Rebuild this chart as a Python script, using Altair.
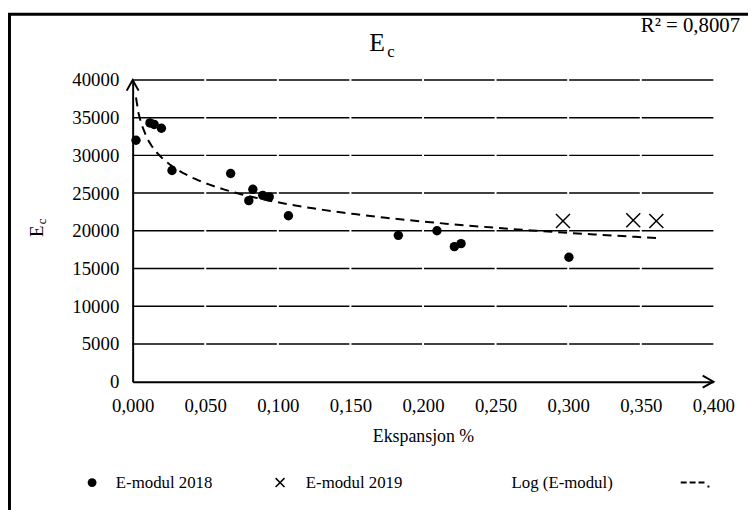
import altair as alt
import pandas as pd

# ---- data ----
x_2018 = [0.0023, 0.0119, 0.0148, 0.0198, 0.0271, 0.0675, 0.0800, 0.0828,
          0.0896, 0.0941, 0.1073, 0.1830, 0.2096, 0.2216, 0.2262, 0.3005]
y_2018 = [32000, 34300, 34100, 33600, 28000, 27600, 24000, 25500,
          24700, 24500, 22000, 19400, 20000, 17900, 18300, 16500]
x_2019 = [0.2964, 0.3448, 0.3607]
y_2019 = [21300, 21400, 21300]

x_ticks = [0.0, 0.05, 0.10, 0.15, 0.20, 0.25, 0.30, 0.35, 0.40]
y_ticks = [0, 5000, 10000, 15000, 20000, 25000, 30000, 35000, 40000]
grid_gaps = [0.05, 0.10, 0.15, 0.20, 0.25, 0.30, 0.35]

FONT = "Liberation Serif, 'Times New Roman', Times, serif"
W, H = 587, 305

pts = pd.DataFrame({
    "x": x_2018 + x_2019,
    "y": y_2018 + y_2019,
    "serie": ["E-modul 2018"] * len(x_2018) + ["E-modul 2019"] * len(x_2019),
})
grid = pd.DataFrame({"x": [0.0] * 8, "x2": [0.4] * 8, "y": y_ticks[1:]})
gaps = pd.DataFrame({"x": grid_gaps, "y": [2500] * len(grid_gaps), "y2": [40600] * len(grid_gaps)})
arrow_up = pd.DataFrame({"x": [0.0], "y": [40000]})
arrow_right = pd.DataFrame({"x": [0.4], "y": [0]})
one = alt.Data(values=[{}])

xs = alt.Scale(domain=[0, 0.4], nice=False, zero=False)
ys = alt.Scale(domain=[0, 40000], nice=False)

x_axis = alt.Axis(values=x_ticks, labelExpr="replace(format(datum.value, '.3f'), '.', ',')",
                  grid=False, ticks=False, domainColor="black", domainWidth=2,
                  labelFont=FONT, labelFontSize=19, labelColor="black", labelPadding=15,
                  labelFlush=False, labelOverlap=False, title="Ekspansjon %", titleFont=FONT,
                  titleFontSize=18, titleFontWeight="normal", titleColor="black", titlePadding=12)
y_axis = alt.Axis(values=y_ticks, format="d", grid=False, ticks=False,
                  domainColor="black", domainWidth=2, labelOverlap=False,
                  labelFont=FONT, labelFontSize=19, labelColor="black", labelPadding=14,
                  title=None)

X = alt.X("x:Q", scale=xs, axis=x_axis)
Y = alt.Y("y:Q", scale=ys, axis=y_axis)

base = alt.Chart(pts).mark_point(opacity=0).encode(x=X, y=Y)

grid_rules = alt.Chart(grid).mark_rule(color="black", strokeWidth=1.5).encode(
    x=X, x2="x2:Q", y=Y)

gap_rules = alt.Chart(gaps).mark_rule(color="white", strokeWidth=2).encode(
    x=X, y=Y, y2="y2:Q")

trend = alt.Chart(pts).transform_regression("x", "y", method="log").mark_line(
    color="black", strokeWidth=2, strokeDash=[9, 6], clip=True).encode(x=X, y=Y)

dots = alt.Chart(pts).transform_filter(alt.datum.serie == "E-modul 2018").mark_point(
    shape="circle", filled=True, color="black", size=90, opacity=1).encode(x=X, y=Y)

CROSS = "M-1,-1L1,1M1,-1L-1,1"
crosses = alt.Chart(pts).transform_filter(alt.datum.serie == "E-modul 2019").mark_point(
    shape=CROSS, filled=False, color="black", size=200, strokeWidth=1.5, opacity=1).encode(
    x=X, y=Y)

up = alt.Chart(arrow_up).mark_point(shape="M-1,1.8L0,0L1,1.8", filled=False, color="black",
                                    size=144, strokeWidth=2, opacity=1).encode(x=X, y=Y)
right = alt.Chart(arrow_right).mark_point(shape="M-1.8,-1L0,0L-1.8,1", filled=False,
                                          color="black", size=144, strokeWidth=2,
                                          opacity=1).encode(x=X, y=Y)


def txt(s, x, y, size=20, align="left", angle=0):
    return alt.Chart(one).mark_text(text=s, font=FONT, fontSize=size, color="black",
                                    align=align, baseline="middle", angle=angle).encode(
        x=alt.value(x), y=alt.value(y))


title_E = txt("E", 247, -37, size=26, align="center")
title_c = txt("c", 261, -28, size=17, align="center")
r2 = txt("R² = 0,8007", 614, -54, size=21, align="right")
ytitle_E = txt("E", -97, 153, size=19, align="center", angle=270)
ytitle_c = txt("c", -92, 143, size=13, align="center", angle=270)

LEG_Y = 407
leg_dot = alt.Chart(one).mark_point(shape="circle", filled=True, color="black", size=80,
                                    opacity=1).encode(x=alt.value(-41), y=alt.value(LEG_Y))
leg_t1 = txt("E-modul 2018", -17, LEG_Y, size=17)
leg_x = alt.Chart(one).mark_point(shape=CROSS, filled=False, color="black", size=81,
                                  strokeWidth=1.5, opacity=1).encode(x=alt.value(149),
                                                                     y=alt.value(LEG_Y))
leg_t2 = txt("E-modul 2019", 175, LEG_Y, size=17)
leg_t3 = txt("Log (E-modul)", 383, LEG_Y, size=17)
leg_dash = alt.Chart(one).mark_rule(color="black", strokeWidth=2, strokeDash=[6, 3]).encode(
    x=alt.value(554), x2=alt.value(578), y=alt.value(LEG_Y))
leg_period = alt.Chart(one).mark_rule(color="black", strokeWidth=2).encode(
    x=alt.value(581), x2=alt.value(583), y=alt.value(LEG_Y + 4))

frame = alt.Chart(one).mark_rect(fillOpacity=0, stroke="black", strokeWidth=3).encode(
    x=alt.value(-124.5), x2=alt.value(660), y=alt.value(-66.5), y2=alt.value(460))

chart = alt.layer(
    base, grid_rules, gap_rules, trend, dots, crosses, up, right,
    title_E, title_c, r2, ytitle_E, ytitle_c,
    leg_dot, leg_t1, leg_x, leg_t2, leg_t3, leg_dash, leg_period, frame,
).properties(
    width=W, height=H,
    padding={"left": 126, "top": 70, "right": 35, "bottom": 127},
    autosize="none", background="white",
).configure_view(stroke=None)

chart.save("out.html", embed_options={"renderer": "svg", "actions": False})
